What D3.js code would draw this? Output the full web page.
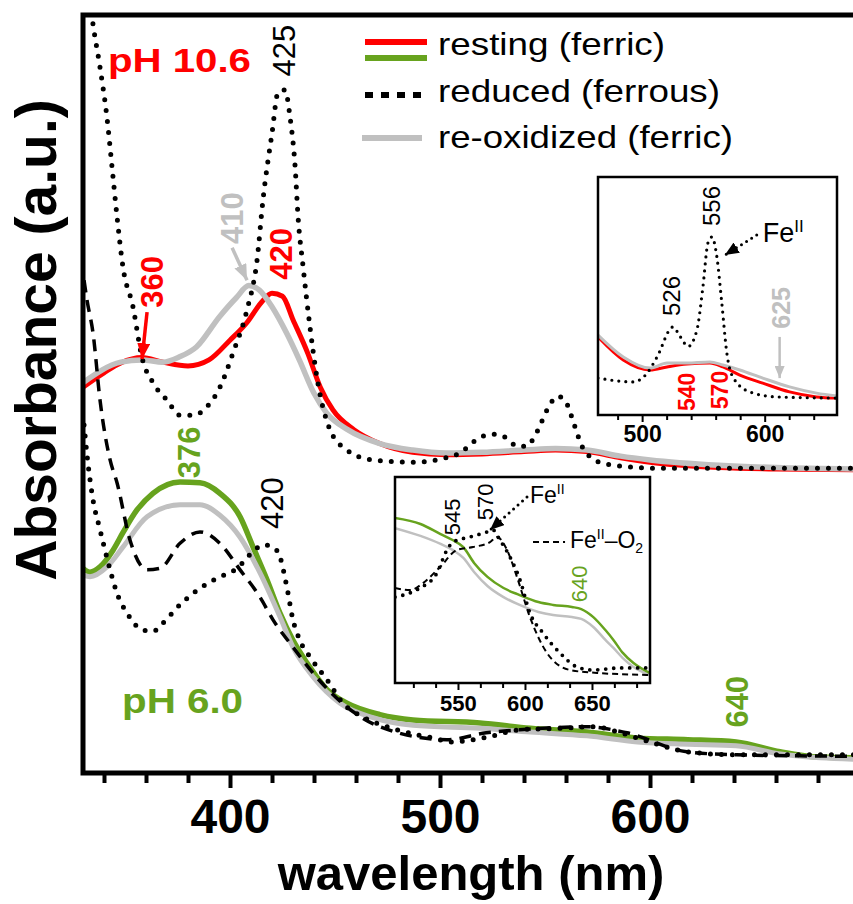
<!DOCTYPE html>
<html>
<head>
<meta charset="utf-8">
<script src="https://cdnjs.cloudflare.com/ajax/libs/d3/7.8.5/d3.min.js"></script>
<style>
  body { margin: 0; background: #fff; }
  svg { display: block; font-family: "Liberation Sans", Arial, Helvetica, sans-serif; }
</style>
</head>
<body>
<svg id="chart" width="853" height="904"></svg>
<script>
// ---- data: [wavelength nm, absorbance a.u.] ----
// main panel, pH 10.6
var restingHigh = [[330,50.9],[340,52.8],[348,54.1],[358,54.8],[368,54.2],[380,53.7],[390,54.5],[400,57.1],[408,59.4],[415,62.1],[420,63.3],[425,62.9],[430,59.8],[437,55.4],[443,50.9],[449,47.9],[459,45.3],[471,43.5],[487,42.3],[503,42.0],[520,42.1],[540,42.4],[555,42.6],[570,42.4],[586,41.6],[600,41.0],[633,40.3],[660,40.1],[700,40.0]];
var reoxHigh = [[330,51.5],[348,54.2],[358,54.5],[368,54.2],[376,54.9],[384,56.2],[395,60.2],[403,62.7],[409,64.3],[414,63.7],[420,61.5],[427,58.0],[433,54.5],[440,50.1],[446,47.5],[456,45.3],[471,43.5],[487,42.6],[503,42.2],[520,42.3],[540,42.6],[555,42.8],[570,42.6],[586,41.8],[600,41.3],[633,40.6],[660,40.3],[700,40.1]];
var reducedHigh = [[332,104.6],[334.8,98.7],[338.1,93.1],[341.4,86.5],[343.8,80.0],[346.2,73.4],[349,66.8],[353.8,61.5],[358.1,54.8],[363.3,51.5],[370,49.2],[376.2,47.2],[382.4,47.2],[389,48.3],[395.2,50.9],[401.4,55.4],[408.1,61.1],[412.9,67.7],[415.7,75.6],[420,84.4],[422.9,89.8],[426.2,90.1],[428.6,86.5],[431,80.0],[432.4,73.4],[434.8,66.8],[438.1,58.8],[441.4,52.2],[447.6,45.3],[455.7,42.6],[468,41.3],[487,41.0],[503,41.6],[510,42.3],[516,43.7],[521,44.5],[526,44.7],[531,44.3],[537,43.1],[541,43.1],[546,44.9],[551,47.9],[556,49.7],[560,48.9],[564,45.9],[568,42.9],[576,41.0],[586,40.5],[605,40.2],[650,40.2],[700,40.2]];
// main panel, pH 6.0
var restingLow = [[330,27.0],[333.3,26.5],[338.1,27.2],[344.3,29.4],[349,31.7],[355.7,34.7],[363.3,36.9],[376.2,38.4],[385.7,38.3],[395.2,36.9],[404.8,33.8],[411,29.8],[417.6,25.5],[423.8,21.1],[430,17.5],[436.7,14.5],[446.2,11.0],[455.7,9.2],[471.4,7.7],[487.1,7.0],[519,6.6],[543,5.9],[570,5.4],[594,4.6],[618,4.4],[641,4.1],[662,2.8],[681,2.1],[700,2.0]];
var reoxLow = [[330,26.1],[333.3,25.9],[341.4,27.2],[349,29.8],[360.5,33.8],[376.2,35.4],[385.7,35.4],[395.2,34.0],[404.8,31.1],[414.3,26.4],[423.8,20.6],[430,16.6],[439.5,12.7],[452.4,9.2],[468.1,7.3],[487.1,6.3],[519,5.9],[543,5.4],[570,4.9],[594,4.1],[618,3.8],[641,3.6],[662,2.5],[681,2.0],[700,1.8]];
var reducedLow = [[330.5,45.9],[331.9,42.0],[334.8,36.0],[338.1,32.1],[342.9,26.8],[346.2,23.7],[351,21.1],[358.1,18.9],[363.3,18.7],[368.1,19.8],[376.2,22.2],[384.3,24.1],[393.8,25.7],[403.3,27.0],[411,29.2],[415.7,30.1],[420.5,29.8],[423.8,28.5],[427.1,24.5],[430,20.2],[433.3,17.5],[438.1,15.3],[446.2,12.3],[453.8,9.2],[463.3,7.4],[479.5,5.7],[495.2,4.7],[506,4.1],[522,4.7],[538,5.7],[557,5.9],[573,6.1],[586,5.3],[601,4.0],[617.6,2.8],[641,2.4],[665,2.4],[700,2.4]];
var oxyLow = [[330.5,65.0],[331.9,62.4],[334.8,58.0],[338.1,49.2],[342.9,41.3],[346.2,38.3],[352.4,30.7],[360.5,26.8],[366.7,27.0],[376.2,30.3],[385.7,31.8],[395.2,30.3],[404.8,26.8],[414.3,23.2],[420.5,20.2],[430,16.6],[439.5,13.2],[455.7,8.7],[471.4,6.1],[503.3,4.4],[522,5.3],[538,5.7],[570,6.1],[589,5.3],[617.6,2.8],[641,2.4],[700,2.2]];

// inset 1 (pH 10.6, Q bands)
var inset1Resting = [[464,32.8],[484.6,23.1],[506.5,18.9],[520.3,20.2],[536.6,21.4],[555.3,21.8],[565.9,20.2],[579.7,16.8],[598.4,13.4],[620.3,9.7],[642.3,7.6],[659,7.1]];
var inset1Reox = [[464,33.6],[484.6,24.4],[506.5,19.7],[520.3,21.8],[536.6,21.8],[555.3,22.3],[565.9,21.0],[579.7,18.9],[598.4,15.5],[620.3,11.8],[642.3,9.2],[659,8.0]];
var inset1Reduced = [[464,15.5],[492.7,13.9],[504.1,17.6],[512.2,24.4],[525.2,37.0],[531,33.0],[537.5,28.8],[544.7,35.7],[549.6,53.8],[553.7,72.3],[556.9,74.8],[561,66.4],[565,47.1],[569.1,26.1],[574,16.0],[587.8,9.7],[609.8,7.6],[659,7.1]];

// inset 2 (pH 6.0, Q bands)
var inset2Resting = [[503,80.1],[522,77.2],[537,72.3],[546,69.4],[554,66.0],[562,58.3],[572,51.5],[584,46.1],[596,42.7],[610,39.3],[621,37.9],[635,36.9],[642,35.9],[651,32.0],[660,25.7],[666,20.9],[673,14.6],[681,9.7],[693,4.9]];
var inset2Reox = [[503,75.2],[522,71.4],[537,67.5],[546,64.6],[554,60.7],[562,53.9],[572,47.1],[584,41.7],[596,37.9],[610,34.5],[621,33.0],[635,32.0],[642,31.1],[651,27.2],[660,20.9],[666,17.0],[673,12.1],[681,7.8],[693,3.9]];
var inset2Reduced = [[503,41.7],[514,43.7],[521.6,46.1],[534.3,53.4],[541.8,64.6],[546.3,68.4],[559,70.9],[571.6,73.3],[576.1,74.3],[581.3,69.4],[588.8,61.2],[596.3,50.0],[603.7,34.0],[613.4,24.3],[626.1,14.6],[638.8,7.8],[650.7,6.3],[670.9,7.3],[693.3,7.3]];
var inset2Oxy = [[503,46.1],[514.2,45.1],[523.9,48.5],[536.6,56.3],[549.3,64.6],[561.2,66.0],[573.9,68.4],[579.1,70.9],[586.6,64.6],[594,51.5],[603.7,32.0],[616.4,14.6],[633.6,6.3],[653.7,4.9],[693.3,3.9]];

// ticks
var mainMajorTicks = [400, 500, 600];
var mainMinorTicks = [340, 360, 380, 420, 440, 460, 480, 520, 540, 560, 580, 620, 640, 660, 680];
var inset1MajorTicks = [500, 600];
var inset1MinorTicks = [480, 520, 540, 560, 580, 620, 640];
var inset2MajorTicks = [550, 600, 650];
var inset2MinorTicks = [516.7, 533.3, 566.7, 583.3, 616.7, 633.3, 666.7, 683.3];

var legendLabels = ["resting (ferric)", "reduced (ferrous)", "re-oxidized (ferric)"];

var RED = "#ff0000", GREEN = "#67a31e", GRAY = "#c0c0c0", BLACK = "#000";

var svg = d3.select("#chart");
var defs = svg.append("defs");

var mainX = d3.scaleLinear().domain([330, 700]).range([83, 860]);
var mainY = d3.scaleLinear().domain([0, 100]).range([773, 15]);
var in1X = d3.scaleLinear().domain([464, 659]).range([598, 837]);
var in1Y = d3.scaleLinear().domain([0, 100]).range([415, 177]);
var in2X = d3.scaleLinear().domain([503, 693.3]).range([395, 650]);
var in2Y = d3.scaleLinear().domain([0, 100]).range([683, 477]);

function addClip(id, x, y) {
    defs.append("clipPath").attr("id", id).append("rect")
        .attr("x", x.range()[0]).attr("y", y.range()[1])
        .attr("width", x.range()[1] - x.range()[0])
        .attr("height", y.range()[0] - y.range()[1]);
}
addClip("clip-main", mainX, mainY);
addClip("clip-in1", in1X, in1Y);
addClip("clip-in2", in2X, in2Y);

function addMarker(id, color, len, wid) {
    defs.append("marker").attr("id", id)
        .attr("viewBox", "0 0 10 10").attr("refX", 10).attr("refY", 5)
        .attr("markerWidth", len).attr("markerHeight", wid)
        .attr("markerUnits", "userSpaceOnUse").attr("orient", "auto")
        .attr("preserveAspectRatio", "none")
        .append("path").attr("d", "M0,0L10,5L0,10Z").attr("fill", color);
}
addMarker("head-red", RED, 16, 13);
addMarker("head-gray", GRAY, 16, 13);
addMarker("head-black", BLACK, 14, 12);
addMarker("head-gray-s", GRAY, 12, 10);

function drawLine(g, data, x, y, color, width, dash, cap) {
    var line = d3.line()
        .x(function(d) { return x(d[0]); })
        .y(function(d) { return y(d[1]); })
        .curve(d3.curveMonotoneX);
    g.append("path")
        .attr("d", line(data))
        .attr("fill", "none")
        .attr("stroke", color)
        .attr("stroke-width", width)
        .attr("stroke-dasharray", dash || null)
        .attr("stroke-linecap", cap || "butt")
        .attr("stroke-linejoin", "round");
}

function vText(g, x, y, txt, color, size, weight) {
    return g.append("text")
        .attr("transform", "translate(" + x + "," + y + ") rotate(-90)")
        .attr("text-anchor", "middle")
        .attr("fill", color)
        .attr("font-size", size)
        .attr("font-weight", weight)
        .text(txt);
}

function arrow(g, x1, y1, x2, y2, color, width, marker, dash) {
    g.append("line")
        .attr("x1", x1).attr("y1", y1).attr("x2", x2).attr("y2", y2)
        .attr("stroke", color).attr("stroke-width", width)
        .attr("stroke-dasharray", dash || null)
        .attr("stroke-linecap", dash ? "round" : "butt")
        .attr("marker-end", "url(#" + marker + ")");
}

// ---- main curves ----
var plot = svg.append("g").attr("clip-path", "url(#clip-main)");
drawLine(plot, restingHigh, mainX, mainY, RED, 5);
drawLine(plot, reoxHigh, mainX, mainY, GRAY, 5.5);
drawLine(plot, restingLow, mainX, mainY, GREEN, 5.5);
drawLine(plot, reoxLow, mainX, mainY, GRAY, 5);
drawLine(plot, oxyLow, mainX, mainY, BLACK, 3.5, "12,8");
drawLine(plot, reducedLow, mainX, mainY, BLACK, 5, "0,11", "round");
drawLine(plot, reducedHigh, mainX, mainY, BLACK, 5, "0,11", "round");

// ---- main labels ----
var lab = svg.append("g");
vText(lab, mainX(431), mainY(95.3), "425", BLACK, 31, "normal");
vText(lab, mainX(406.2), mainY(73.2), "410", GRAY, 31, "bold");
vText(lab, mainX(429.5), mainY(68.5), "420", RED, 31, "bold");
vText(lab, mainX(368.1), mainY(64.8), "360", RED, 31, "bold");
vText(lab, mainX(385.7), mainY(42.3), "376", GREEN, 31, "bold");
vText(lab, mainX(425.2), mainY(35.6), "420", BLACK, 31, "normal");
vText(lab, mainX(646.7), mainY(9.4), "640", GREEN, 31, "bold");

arrow(lab, mainX(360.5), mainY(60.8), mainX(358.1), mainY(54.6), RED, 3.5, "head-red");
arrow(lab, mainX(401), mainY(69.3), mainX(408.1), mainY(65.0), GRAY, 3.5, "head-gray");

lab.append("text").attr("x", mainX(341.9)).attr("y", mainY(92.5))
    .attr("fill", RED).attr("font-size", 34).attr("font-weight", "bold")
    .attr("textLength", 143).attr("lengthAdjust", "spacingAndGlyphs")
    .text("pH 10.6");
lab.append("text").attr("x", mainX(348.6)).attr("y", mainY(7.9))
    .attr("fill", GREEN).attr("font-size", 35).attr("font-weight", "bold")
    .attr("textLength", 121).attr("lengthAdjust", "spacingAndGlyphs")
    .text("pH 6.0");

// ---- main frame and axes ----
var x0 = mainX.range()[0], x1 = mainX.range()[1];
var yb = mainY.range()[0], yt = mainY.range()[1];
svg.append("path")
    .attr("d", "M" + x1 + "," + yt + "H" + x0 + "V" + yb + "H" + x1)
    .attr("fill", "none").attr("stroke", BLACK).attr("stroke-width", 5)
    .attr("stroke-linecap", "square");

function styleAxis(g, fontSize, tickWidth) {
    g.select(".domain").remove();
    g.selectAll(".tick line").attr("stroke", BLACK).attr("stroke-width", tickWidth);
    g.selectAll(".tick text")
        .attr("font-size", fontSize).attr("font-weight", "bold")
        .attr("font-family", "'Liberation Sans', Arial, Helvetica, sans-serif")
        .attr("fill", BLACK);
}

var gMinor = svg.append("g").attr("transform", "translate(0," + yb + ")")
    .call(d3.axisBottom(mainX).tickValues(mainMinorTicks).tickSize(10).tickFormat(""));
styleAxis(gMinor, 48, 4);
var gMajor = svg.append("g").attr("transform", "translate(0," + yb + ")")
    .call(d3.axisBottom(mainX).tickValues(mainMajorTicks).tickSize(15).tickPadding(11).tickFormat(d3.format("d")));
styleAxis(gMajor, 48, 4);

svg.append("text")
    .attr("transform", "translate(56,340) rotate(-90)")
    .attr("text-anchor", "middle")
    .attr("font-size", 57).attr("font-weight", "bold")
    .text("Absorbance (a.u.)");
svg.append("text")
    .attr("x", 471).attr("y", 890)
    .attr("text-anchor", "middle")
    .attr("font-size", 49).attr("font-weight", "bold")
    .text("wavelength (nm)");

// ---- inset 1 ----
var in1 = svg.append("g");
in1.append("rect")
    .attr("x", in1X.range()[0]).attr("y", in1Y.range()[1])
    .attr("width", in1X.range()[1] - in1X.range()[0])
    .attr("height", in1Y.range()[0] - in1Y.range()[1])
    .attr("fill", "#fff");
var in1Plot = in1.append("g").attr("clip-path", "url(#clip-in1)");
drawLine(in1Plot, inset1Resting, in1X, in1Y, RED, 3);
drawLine(in1Plot, inset1Reox, in1X, in1Y, GRAY, 3);
drawLine(in1Plot, inset1Reduced, in1X, in1Y, BLACK, 3.2, "0,7", "round");
in1.append("rect")
    .attr("x", in1X.range()[0]).attr("y", in1Y.range()[1])
    .attr("width", in1X.range()[1] - in1X.range()[0])
    .attr("height", in1Y.range()[0] - in1Y.range()[1])
    .attr("fill", "none").attr("stroke", BLACK).attr("stroke-width", 2.5);
var in1Minor = in1.append("g").attr("transform", "translate(0," + in1Y.range()[0] + ")")
    .call(d3.axisBottom(in1X).tickValues(inset1MinorTicks).tickSize(5).tickFormat(""));
styleAxis(in1Minor, 22, 2);
var in1Major = in1.append("g").attr("transform", "translate(0," + in1Y.range()[0] + ")")
    .call(d3.axisBottom(in1X).tickValues(inset1MajorTicks).tickSize(7).tickPadding(4).tickFormat(d3.format("d")));
styleAxis(in1Major, 23, 2);

vText(in1, in1X(530.9), in1Y(50.0), "526", BLACK, 24, "normal");
vText(in1, in1X(563.4), in1Y(87.8), "556", BLACK, 24, "normal");
vText(in1, in1X(620.3), in1Y(45.0), "625", GRAY, 25, "bold");
vText(in1, in1X(543.1), in1Y(9.7), "540", RED, 23, "bold");
vText(in1, in1X(569.9), in1Y(10.5), "570", RED, 23, "bold");
var fe1 = in1.append("text").attr("x", in1X(598.4)).attr("y", in1Y(72.7)).attr("font-size", 27);
fe1.append("tspan").text("Fe");
fe1.append("tspan").attr("font-size", 17).attr("dy", -10).text("II");
arrow(in1, in1X(593.5), in1Y(75.6), in1X(567.5), in1Y(67.2), BLACK, 3, "head-black", "0,6");
arrow(in1, in1X(612.2), in1Y(32.8), in1X(612.2), in1Y(15.5), GRAY, 2.5, "head-gray-s");

// ---- inset 2 ----
var in2 = svg.append("g");
in2.append("rect")
    .attr("x", in2X.range()[0]).attr("y", in2Y.range()[1])
    .attr("width", in2X.range()[1] - in2X.range()[0])
    .attr("height", in2Y.range()[0] - in2Y.range()[1])
    .attr("fill", "#fff");
var in2Plot = in2.append("g").attr("clip-path", "url(#clip-in2)");
drawLine(in2Plot, inset2Reox, in2X, in2Y, GRAY, 2.5);
drawLine(in2Plot, inset2Resting, in2X, in2Y, GREEN, 2.5);
drawLine(in2Plot, inset2Oxy, in2X, in2Y, BLACK, 2, "6,4");
drawLine(in2Plot, inset2Reduced, in2X, in2Y, BLACK, 3.8, "0,8", "round");
in2.append("rect")
    .attr("x", in2X.range()[0]).attr("y", in2Y.range()[1])
    .attr("width", in2X.range()[1] - in2X.range()[0])
    .attr("height", in2Y.range()[0] - in2Y.range()[1])
    .attr("fill", "none").attr("stroke", BLACK).attr("stroke-width", 2.5);
var in2Minor = in2.append("g").attr("transform", "translate(0," + in2Y.range()[0] + ")")
    .call(d3.axisBottom(in2X).tickValues(inset2MinorTicks).tickSize(5).tickFormat(""));
styleAxis(in2Minor, 21, 2);
var in2Major = in2.append("g").attr("transform", "translate(0," + in2Y.range()[0] + ")")
    .call(d3.axisBottom(in2X).tickValues(inset2MajorTicks).tickSize(7).tickPadding(5).tickFormat(d3.format("d")));
styleAxis(in2Major, 22, 2);

vText(in2, in2X(551.5), in2Y(80.6), "545", BLACK, 22, "normal");
vText(in2, in2X(576.1), in2Y(87.9), "570", BLACK, 22, "normal");
vText(in2, in2X(646.3), in2Y(48.1), "640", GREEN, 22, "normal");
var fe2 = in2.append("text").attr("x", in2X(603.7)).attr("y", in2Y(87.4)).attr("font-size", 23);
fe2.append("tspan").text("Fe");
fe2.append("tspan").attr("font-size", 14).attr("dy", -9).text("II");
arrow(in2, in2X(601.5), in2Y(90.3), in2X(573.9), in2Y(74.3), BLACK, 3, "head-black", "0,6");
in2.append("line")
    .attr("x1", in2X(606)).attr("x2", in2X(629.9))
    .attr("y1", in2Y(68.4)).attr("y2", in2Y(68.4))
    .attr("stroke", BLACK).attr("stroke-width", 2).attr("stroke-dasharray", "6,4");
var fe3 = in2.append("text").attr("x", in2X(633.6)).attr("y", in2Y(65.5)).attr("font-size", 23);
fe3.append("tspan").text("Fe");
fe3.append("tspan").attr("font-size", 14).attr("dy", -9).text("II");
fe3.append("tspan").attr("dy", 9).text("\u2013O");
fe3.append("tspan").attr("font-size", 14).attr("dy", 5).text("2");

// ---- legend ----
var leg = svg.append("g");
leg.append("line").attr("x1", 365).attr("x2", 427).attr("y1", 42).attr("y2", 42)
    .attr("stroke", RED).attr("stroke-width", 6);
leg.append("line").attr("x1", 365).attr("x2", 427).attr("y1", 58).attr("y2", 58)
    .attr("stroke", GREEN).attr("stroke-width", 6);
leg.append("line").attr("x1", 365).attr("x2", 424).attr("y1", 95).attr("y2", 95)
    .attr("stroke", BLACK).attr("stroke-width", 6).attr("stroke-dasharray", "8,8");
leg.append("line").attr("x1", 362).attr("x2", 422).attr("y1", 138).attr("y2", 138)
    .attr("stroke", GRAY).attr("stroke-width", 6);
var legWidths = [227, 282, 295];
var legBase = [55, 102, 148];
leg.selectAll("text.lg").data(legendLabels).enter().append("text")
    .attr("class", "lg")
    .attr("x", 438)
    .attr("y", function(d, i) { return legBase[i]; })
    .attr("font-size", 32)
    .attr("textLength", function(d, i) { return legWidths[i]; })
    .attr("lengthAdjust", "spacingAndGlyphs")
    .text(function(d) { return d; });
</script>
</body>
</html>
